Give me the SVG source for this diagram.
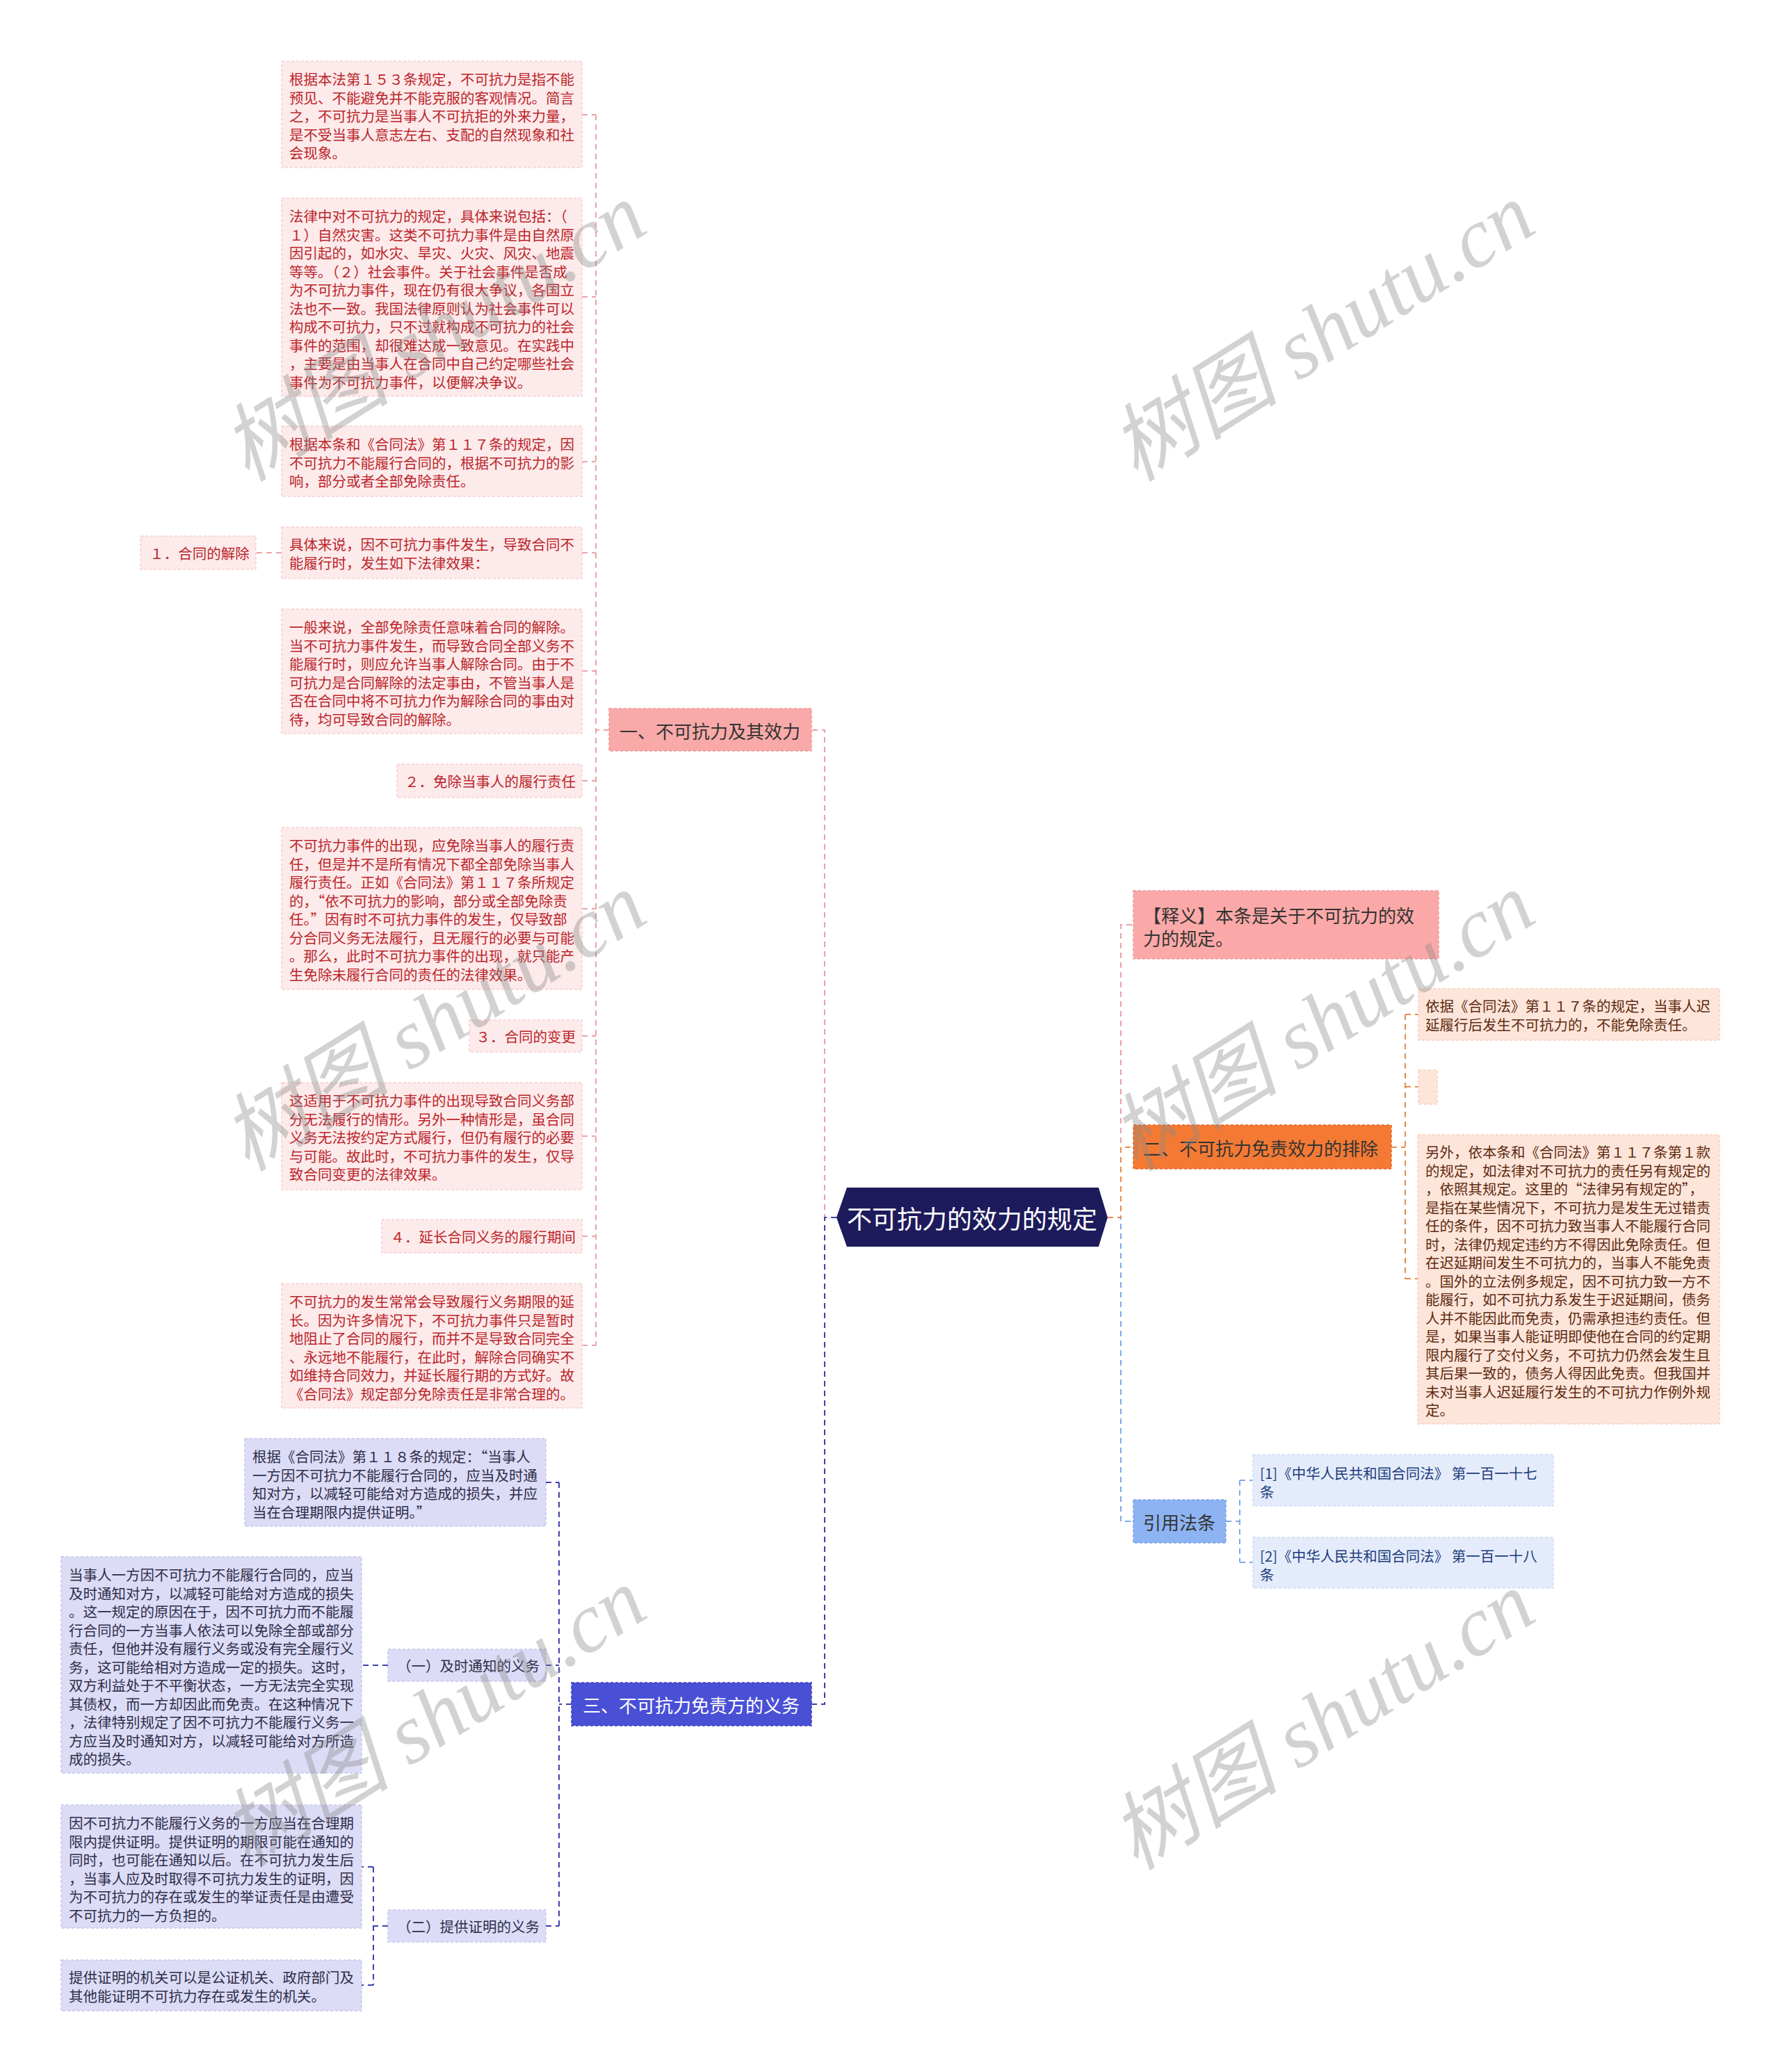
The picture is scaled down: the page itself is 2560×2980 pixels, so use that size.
<svg xmlns="http://www.w3.org/2000/svg" width="2560" height="2980" viewBox="0 0 2560 2980">
<style>
text{font-family:"Noto Sans CJK SC","Noto Sans",sans-serif;dominant-baseline:central}
.s{font-size:20.5px}
.m{font-size:26px}
.c{fill:none;stroke-width:2;stroke-dasharray:8 6}
.pkc{stroke:#eba2a6}
.orc{stroke:#ea8a4c}
.dbc{stroke:#3c40b0}
.lbc{stroke:#80a8e8}
.pk rect{fill:#fdeaea;stroke:#f7cfd0;stroke-width:1.5;stroke-dasharray:4 3}
.pk text{fill:#bb252b}
.pe rect{fill:#fde5d9;stroke:#f9d0bd;stroke-width:1.5;stroke-dasharray:4 3}
.pe text{fill:#5e2a12}
.bl rect{fill:#dcdcf7;stroke:#c5c5ee;stroke-width:1.5;stroke-dasharray:4 3}
.bl text{fill:#2e2e48}
.ci rect{fill:#e4ecfb;stroke:#d0ddf5;stroke-width:1.5;stroke-dasharray:4 3}
.ci text{fill:#1d3c7c}
.wm{font-family:"Liberation Serif","Noto Sans CJK SC",serif;font-size:122px;fill:#8a8a8a;opacity:0.38;font-style:italic;dominant-baseline:auto}
</style>

<g id="connectors">
  <path class="c pkc" d="M1203,1751 H1186 V1050 H1167"/>
  <path class="c dbc" stroke-width="3" d="M1203,1751 H1186 V2451 H1167"/>
  <path class="c pkc" d="M1593,1751 H1612 V1330 H1630"/>
  <path class="c lbc" stroke-width="3" d="M1593,1751 H1612 V2188 H1630"/>
  <path class="c orc" stroke-width="3" d="M1593,1751 H1612 V1650 H1630"/>
  <path class="c pkc" d="M876,1050 H857"/>
  <path class="c pkc" d="M857,165 V1935"/>
  <path class="c pkc" d="M837,165 H857 M837,427 H857 M837,664 H857 M837,795 H857 M837,965 H857 M837,1123 H857 M837,1307 H857 M837,1490 H857 M837,1634 H857 M837,1778 H857 M837,1935 H857"/>
  <path class="c pkc" d="M405,795 H368"/>
  <path class="c dbc" d="M822,2451 H804 M804,2132 V2770 M785,2132 H804 M785,2395 H804 M785,2770 H804"/>
  <path class="c dbc" d="M558,2395 H520"/>
  <path class="c dbc" d="M558,2770 H537 M537,2685 V2855 M537,2685 H520 M537,2855 H520"/>
  <path class="c orc" d="M2001,1650 H2021 M2021,1459 V1839 M2021,1459 H2040 M2021,1563 H2040 M2021,1839 H2039"/>
  <path class="c lbc" d="M1763,2188 H1783 M1783,2129 V2247 M1783,2129 H1802 M1783,2247 H1802"/>
</g>

<g id="root">
  <polygon points="1203,1751 1218,1708 1580,1708 1593,1751 1580,1793 1218,1793" fill="#1e1b5c"/>
  <text x="1398" y="1751" text-anchor="middle" font-size="36" fill="#ffffff">不可抗力的效力的规定</text>
</g>

<g id="branch1">
  <rect x="876" y="1019" width="291" height="61" fill="#f8a9a8" stroke="#f09898" stroke-width="1.5" stroke-dasharray="4 3"/>
  <text class="m" x="1021" y="1050" text-anchor="middle" fill="#333333">一、不可抗力及其效力</text>
</g>

<g id="b1-n1" class="pk">
  <rect x="405" y="88" width="432" height="153"/>
  <text class="s" x="416" y="113"><tspan x="416">根据本法第１５３条规定，不可抗力是指不能</tspan><tspan x="416" dy="26.5">预见、不能避免并不能克服的客观情况。简言</tspan><tspan x="416" dy="26.5">之，不可抗力是当事人不可抗拒的外来力量，</tspan><tspan x="416" dy="26.5">是不受当事人意志左右、支配的自然现象和社</tspan><tspan x="416" dy="26.5">会现象。</tspan></text>
</g>
<g id="b1-n2" class="pk">
  <rect x="405" y="285" width="432" height="285"/>
  <text class="s" x="416" y="310"><tspan x="416">法律中对不可抗力的规定，具体来说包括：（</tspan><tspan x="416" dy="26.5">１）自然灾害。这类不可抗力事件是由自然原</tspan><tspan x="416" dy="26.5">因引起的，如水灾、旱灾、火灾、风灾、地震</tspan><tspan x="416" dy="26.5">等等。（２）社会事件。关于社会事件是否成</tspan><tspan x="416" dy="26.5">为不可抗力事件，现在仍有很大争议，各国立</tspan><tspan x="416" dy="26.5">法也不一致。我国法律原则认为社会事件可以</tspan><tspan x="416" dy="26.5">构成不可抗力，只不过就构成不可抗力的社会</tspan><tspan x="416" dy="26.5">事件的范围，却很难达成一致意见。在实践中</tspan><tspan x="416" dy="26.5">，主要是由当事人在合同中自己约定哪些社会</tspan><tspan x="416" dy="26.5">事件为不可抗力事件，以便解决争议。</tspan></text>
</g>
<g id="b1-n3" class="pk">
  <rect x="405" y="613" width="432" height="101"/>
  <text class="s" x="416" y="638"><tspan x="416">根据本条和《合同法》第１１７条的规定，因</tspan><tspan x="416" dy="26.5">不可抗力不能履行合同的，根据不可抗力的影</tspan><tspan x="416" dy="26.5">响，部分或者全部免除责任。</tspan></text>
</g>
<g id="b1-n4" class="pk">
  <rect x="405" y="758" width="432" height="74"/>
  <text class="s" x="416" y="782"><tspan x="416">具体来说，因不可抗力事件发生，导致合同不</tspan><tspan x="416" dy="26.5">能履行时，发生如下法律效果：</tspan></text>
</g>
<g id="b1-n4-1" class="pk">
  <rect x="202" y="771" width="166" height="48"/>
  <text class="s" x="287" y="795" text-anchor="middle">１．合同的解除</text>
</g>
<g id="b1-n5" class="pk">
  <rect x="405" y="876" width="432" height="179"/>
  <text class="s" x="416" y="901"><tspan x="416">一般来说，全部免除责任意味着合同的解除。</tspan><tspan x="416" dy="26.5">当不可抗力事件发生，而导致合同全部义务不</tspan><tspan x="416" dy="26.5">能履行时，则应允许当事人解除合同。由于不</tspan><tspan x="416" dy="26.5">可抗力是合同解除的法定事由，不管当事人是</tspan><tspan x="416" dy="26.5">否在合同中将不可抗力作为解除合同的事由对</tspan><tspan x="416" dy="26.5">待，均可导致合同的解除。</tspan></text>
</g>
<g id="b1-n6" class="pk">
  <rect x="571" y="1099" width="266" height="48"/>
  <text class="s" x="828" y="1123" text-anchor="end">２．免除当事人的履行责任</text>
</g>
<g id="b1-n7" class="pk">
  <rect x="405" y="1190" width="432" height="233"/>
  <text class="s" x="416" y="1215"><tspan x="416">不可抗力事件的出现，应免除当事人的履行责</tspan><tspan x="416" dy="26.5">任，但是并不是所有情况下都全部免除当事人</tspan><tspan x="416" dy="26.5">履行责任。正如《合同法》第１１７条所规定</tspan><tspan x="416" dy="26.5">的，“依不可抗力的影响，部分或全部免除责</tspan><tspan x="416" dy="26.5">任。”因有时不可抗力事件的发生，仅导致部</tspan><tspan x="416" dy="26.5">分合同义务无法履行，且无履行的必要与可能</tspan><tspan x="416" dy="26.5">。那么，此时不可抗力事件的出现，就只能产</tspan><tspan x="416" dy="26.5">生免除未履行合同的责任的法律效果。</tspan></text>
</g>
<g id="b1-n8" class="pk">
  <rect x="675" y="1467" width="162" height="46"/>
  <text class="s" x="828" y="1490" text-anchor="end">３．合同的变更</text>
</g>
<g id="b1-n9" class="pk">
  <rect x="405" y="1557" width="432" height="154"/>
  <text class="s" x="416" y="1582"><tspan x="416">这适用于不可抗力事件的出现导致合同义务部</tspan><tspan x="416" dy="26.5">分无法履行的情形。另外一种情形是，虽合同</tspan><tspan x="416" dy="26.5">义务无法按约定方式履行，但仍有履行的必要</tspan><tspan x="416" dy="26.5">与可能。故此时，不可抗力事件的发生，仅导</tspan><tspan x="416" dy="26.5">致合同变更的法律效果。</tspan></text>
</g>
<g id="b1-n10" class="pk">
  <rect x="549" y="1754" width="288" height="48"/>
  <text class="s" x="828" y="1778" text-anchor="end">４．延长合同义务的履行期间</text>
</g>
<g id="b1-n11" class="pk">
  <rect x="405" y="1846" width="432" height="179"/>
  <text class="s" x="416" y="1871"><tspan x="416">不可抗力的发生常常会导致履行义务期限的延</tspan><tspan x="416" dy="26.5">长。因为许多情况下，不可抗力事件只是暂时</tspan><tspan x="416" dy="26.5">地阻止了合同的履行，而并不是导致合同完全</tspan><tspan x="416" dy="26.5">、永远地不能履行，在此时，解除合同确实不</tspan><tspan x="416" dy="26.5">如维持合同效力，并延长履行期的方式好。故</tspan><tspan x="416" dy="26.5">《合同法》规定部分免除责任是非常合理的。</tspan></text>
</g>

<g id="branch3">
  <rect x="822" y="2420" width="345" height="62" fill="#4a50d6" stroke="#3a3fb8" stroke-width="1.5" stroke-dasharray="4 3"/>
  <text class="m" x="994" y="2451" text-anchor="middle" fill="#ffffff">三、不可抗力免责方的义务</text>
</g>
<g id="b3-n1" class="bl">
  <rect x="352" y="2069" width="433" height="126"/>
  <text class="s" x="363" y="2094"><tspan x="363">根据《合同法》第１１８条的规定：“当事人</tspan><tspan x="363" dy="26.5">一方因不可抗力不能履行合同的，应当及时通</tspan><tspan x="363" dy="26.5">知对方，以减轻可能给对方造成的损失，并应</tspan><tspan x="363" dy="26.5">当在合理期限内提供证明。”</tspan></text>
</g>
<g id="b3-n2" class="bl">
  <rect x="558" y="2372" width="227" height="46"/>
  <text class="s" x="776" y="2395" text-anchor="end">（一）及时通知的义务</text>
</g>
<g id="b3-n2-1" class="bl">
  <rect x="88" y="2239" width="432" height="311"/>
  <text class="s" x="99" y="2264"><tspan x="99">当事人一方因不可抗力不能履行合同的，应当</tspan><tspan x="99" dy="26.5">及时通知对方，以减轻可能给对方造成的损失</tspan><tspan x="99" dy="26.5">。这一规定的原因在于，因不可抗力而不能履</tspan><tspan x="99" dy="26.5">行合同的一方当事人依法可以免除全部或部分</tspan><tspan x="99" dy="26.5">责任，但他并没有履行义务或没有完全履行义</tspan><tspan x="99" dy="26.5">务，这可能给相对方造成一定的损失。这时，</tspan><tspan x="99" dy="26.5">双方利益处于不平衡状态，一方无法完全实现</tspan><tspan x="99" dy="26.5">其债权，而一方却因此而免责。在这种情况下</tspan><tspan x="99" dy="26.5">，法律特别规定了因不可抗力不能履行义务一</tspan><tspan x="99" dy="26.5">方应当及时通知对方，以减轻可能给对方所造</tspan><tspan x="99" dy="26.5">成的损失。</tspan></text>
</g>
<g id="b3-n3" class="bl">
  <rect x="558" y="2747" width="227" height="46"/>
  <text class="s" x="776" y="2770" text-anchor="end">（二）提供证明的义务</text>
</g>
<g id="b3-n3-1" class="bl">
  <rect x="88" y="2596" width="432" height="177"/>
  <text class="s" x="99" y="2621"><tspan x="99">因不可抗力不能履行义务的一方应当在合理期</tspan><tspan x="99" dy="26.5">限内提供证明。提供证明的期限可能在通知的</tspan><tspan x="99" dy="26.5">同时，也可能在通知以后。在不可抗力发生后</tspan><tspan x="99" dy="26.5">，当事人应及时取得不可抗力发生的证明，因</tspan><tspan x="99" dy="26.5">为不可抗力的存在或发生的举证责任是由遭受</tspan><tspan x="99" dy="26.5">不可抗力的一方负担的。</tspan></text>
</g>
<g id="b3-n3-2" class="bl">
  <rect x="88" y="2819" width="432" height="73"/>
  <text class="s" x="99" y="2843"><tspan x="99">提供证明的机关可以是公证机关、政府部门及</tspan><tspan x="99" dy="26.5">其他能证明不可抗力存在或发生的机关。</tspan></text>
</g>

<g id="shiyi">
  <rect x="1630" y="1281" width="439" height="98" fill="#fba9a8" stroke="#f09898" stroke-width="1.5" stroke-dasharray="4 3"/>
  <text class="m" x="1644" y="1315" fill="#333333"><tspan x="1644">【释义】本条是关于不可抗力的效</tspan><tspan x="1644" dy="33">力的规定。</tspan></text>
</g>

<g id="branch2">
  <rect x="1630" y="1618" width="371" height="63" fill="#f47a34" stroke="#e0662a" stroke-width="1.5" stroke-dasharray="4 3"/>
  <text class="m" x="1644" y="1650" fill="#333333">二、不可抗力免责效力的排除</text>
</g>
<g id="b2-n1" class="pe">
  <rect x="2040" y="1422" width="433" height="74"/>
  <text class="s" x="2050" y="1446"><tspan x="2050">依据《合同法》第１１７条的规定，当事人迟</tspan><tspan x="2050" dy="26.5">延履行后发生不可抗力的，不能免除责任。</tspan></text>
</g>
<g id="b2-n2" class="pe">
  <rect x="2040" y="1539" width="27" height="49"/>
</g>
<g id="b2-n3" class="pe">
  <rect x="2039" y="1632" width="434" height="416"/>
  <text class="s" x="2050" y="1656"><tspan x="2050">另外，依本条和《合同法》第１１７条第１款</tspan><tspan x="2050" dy="26.5">的规定，如法律对不可抗力的责任另有规定的</tspan><tspan x="2050" dy="26.5">，依照其规定。这里的“法律另有规定的”，</tspan><tspan x="2050" dy="26.5">是指在某些情况下，不可抗力是发生无过错责</tspan><tspan x="2050" dy="26.5">任的条件，因不可抗力致当事人不能履行合同</tspan><tspan x="2050" dy="26.5">时，法律仍规定违约方不得因此免除责任。但</tspan><tspan x="2050" dy="26.5">在迟延期间发生不可抗力的，当事人不能免责</tspan><tspan x="2050" dy="26.5">。国外的立法例多规定，因不可抗力致一方不</tspan><tspan x="2050" dy="26.5">能履行，如不可抗力系发生于迟延期间，债务</tspan><tspan x="2050" dy="26.5">人并不能因此而免责，仍需承担违约责任。但</tspan><tspan x="2050" dy="26.5">是，如果当事人能证明即使他在合同的约定期</tspan><tspan x="2050" dy="26.5">限内履行了交付义务，不可抗力仍然会发生且</tspan><tspan x="2050" dy="26.5">其后果一致的，债务人得因此免责。但我国并</tspan><tspan x="2050" dy="26.5">未对当事人迟延履行发生的不可抗力作例外规</tspan><tspan x="2050" dy="26.5">定。</tspan></text>
</g>

<g id="branch4">
  <rect x="1630" y="2157" width="133" height="62" fill="#8db3f3" stroke="#7aa3e8" stroke-width="1.5" stroke-dasharray="4 3"/>
  <text class="m" x="1696" y="2188" text-anchor="middle" fill="#333333">引用法条</text>
</g>
<g id="b4-n1" class="ci">
  <rect x="1802" y="2092" width="432" height="74"/>
  <text class="s" x="1812" y="2118"><tspan x="1812">[1]《中华人民共和国合同法》 第一百一十七</tspan><tspan x="1812" dy="26.5">条</tspan></text>
</g>
<g id="b4-n2" class="ci">
  <rect x="1802" y="2211" width="432" height="73"/>
  <text class="s" x="1812" y="2237"><tspan x="1812">[2]《中华人民共和国合同法》 第一百一十八</tspan><tspan x="1812" dy="26.5">条</tspan></text>
</g>

<g id="watermarks">
  <text class="wm" transform="translate(646,513) rotate(-32)" text-anchor="middle">树图 shutu.cn</text>
  <text class="wm" transform="translate(1924,513) rotate(-32)" text-anchor="middle">树图 shutu.cn</text>
  <text class="wm" transform="translate(646,1505) rotate(-32)" text-anchor="middle">树图 shutu.cn</text>
  <text class="wm" transform="translate(1924,1505) rotate(-32)" text-anchor="middle">树图 shutu.cn</text>
  <text class="wm" transform="translate(646,2505) rotate(-32)" text-anchor="middle">树图 shutu.cn</text>
  <text class="wm" transform="translate(1924,2510) rotate(-32)" text-anchor="middle">树图 shutu.cn</text>
</g>
</svg>
